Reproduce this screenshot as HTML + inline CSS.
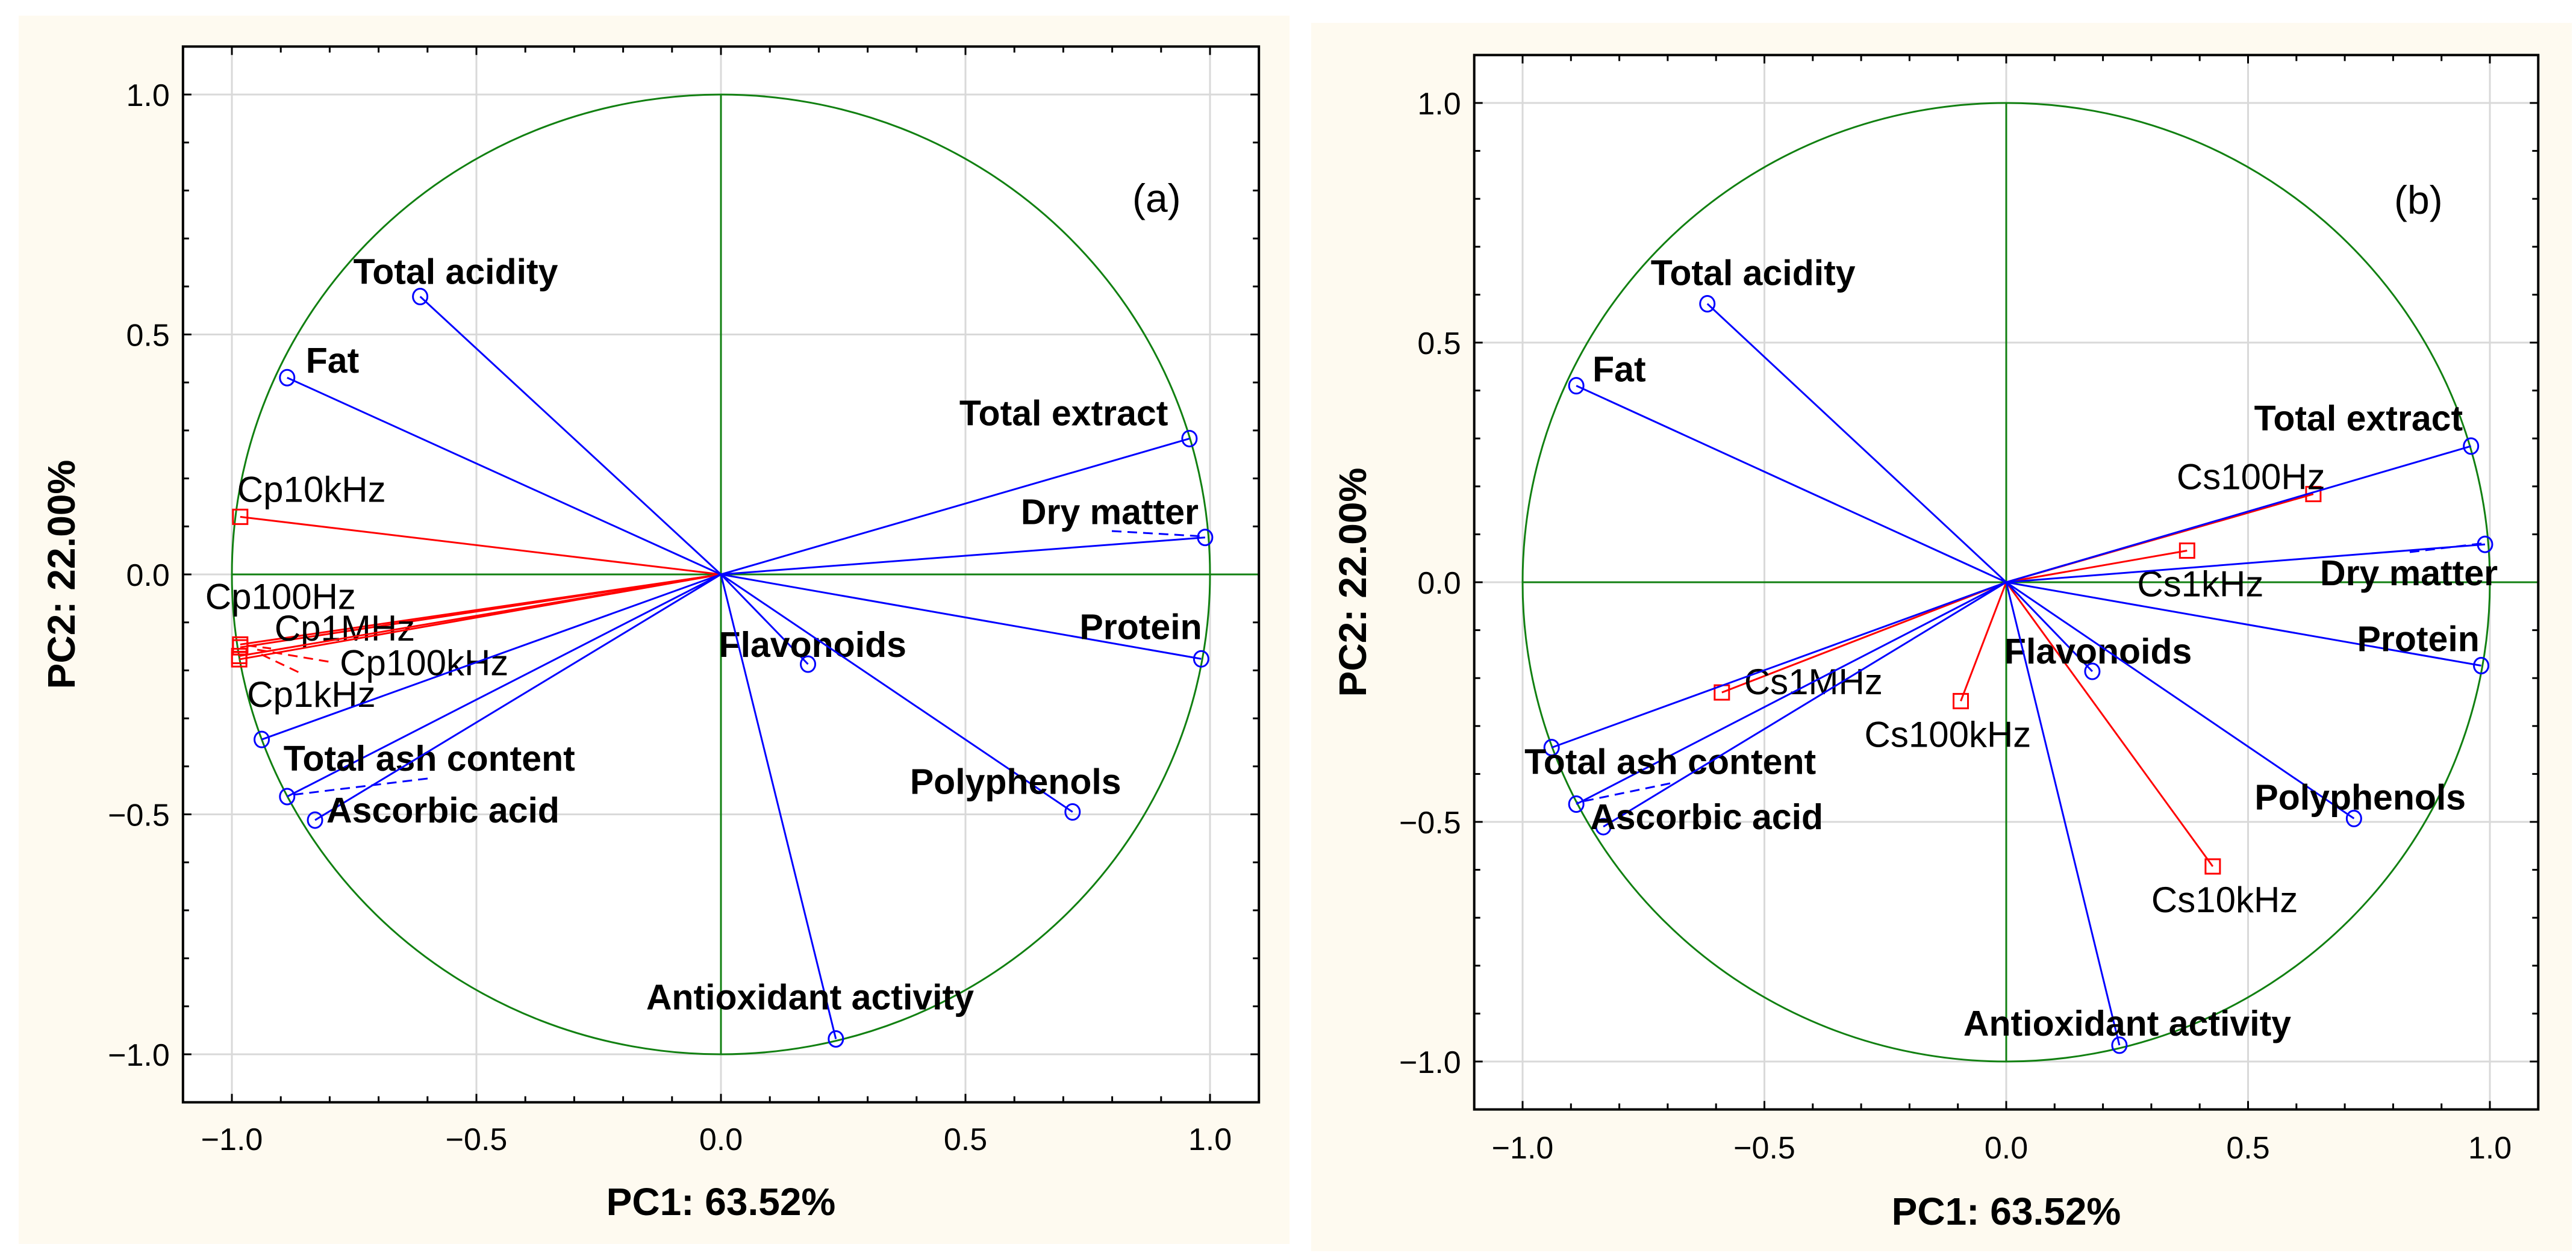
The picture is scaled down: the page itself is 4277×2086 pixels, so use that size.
<!DOCTYPE html>
<html><head><meta charset="utf-8">
<style>
html,body{margin:0;padding:0;background:#fff;}
svg{display:block;}
text{font-family:"Liberation Sans",Arial,sans-serif;}
</style></head>
<body>
<svg id="chart" width="4277" height="2086" viewBox="0 0 4277 2086" xmlns="http://www.w3.org/2000/svg">
<rect x="31" y="26" width="2110" height="2040" fill="#FEFAF0"/>
<rect x="2177" y="38" width="2093" height="2040" fill="#FEFAF0"/>
</svg>
<script>
// ---- data ----
const varNames = ["Total acidity","Fat","Total extract","Dry matter","Protein","Flavonoids","Polyphenols","Antioxidant activity","","Total ash content","Ascorbic acid"];
const varPC1 = [-0.615,-0.887,0.958,0.990,0.982,0.178,0.719,0.235,-0.939,-0.887,-0.830];
const varPC2 = [0.579,0.410,0.283,0.077,-0.176,-0.187,-0.495,-0.968,-0.344,-0.463,-0.512];
const varPC1b = [-0.618,-0.889,0.961,0.990,0.982,0.178,0.719,0.234,-0.940,-0.889,-0.833];
const varPC2b = [0.581,0.410,0.284,0.079,-0.174,-0.186,-0.493,-0.966,-0.345,-0.463,-0.510];
const cpNames = ["Cp10kHz","Cp100Hz","Cp1MHz","Cp100kHz","Cp1kHz"];
const cpPC1 = [-0.983,-0.983,-0.983,-0.985,-0.985];
const cpPC2 = [0.120,-0.146,-0.152,-0.170,-0.177];
const csNames = ["Cs100Hz","Cs1kHz","Cs1MHz","Cs100kHz","Cs10kHz"];
const csPC1 = [0.635,0.374,-0.588,-0.094,0.427];
const csPC2 = [0.184,0.066,-0.230,-0.248,-0.593];
const tickVals = [-1.0,-0.5,0.0,0.5,1.0];
const tickLabels = ["\u22121.0","\u22120.5","0.0","0.5","1.0"];

const NS="http://www.w3.org/2000/svg";
const svg=document.getElementById('chart');
function el(tag,attrs,parent,txt){const e=document.createElementNS(NS,tag);for(const k in attrs)e.setAttribute(k,attrs[k]);if(txt!==undefined)e.textContent=txt;(parent||svg).appendChild(e);return e;}

// label offsets (px from point): [dx, dy(baseline)]
const varOffA=[[-111,-21],[31,-8],[-382,-22],[-306,-22],[-202,-33],[-148,-12],[-270,-30],[-315,-49],[0,0],[-6,-43],[19,4]];
const varOffB=[[-94,-31],[27,-7],[-360,-26],[-274,68],[-206,-24],[-146,-13],[-165,-15],[-259,-16],[0,0],[-86,-50],[-22,4]];
const cpOffA=[[-5,-25],[-58,-59],[57,-11],[167,32],[13,79]];
const csOffB=[[-227,-8],[-83,76],[37,3],[-160,76],[-102,76]];

function panel(o){
  const g=el('g',{});  
  const X=v=>o.cx+v*o.sx, Y=v=>o.cy-v*o.sy;
  const L=X(-1.1),R=X(1.1),T=Y(1.1),B=Y(-1.1);
  el('rect',{x:L,y:T,width:R-L,height:B-T,fill:'#fff'},g);
  tickVals.forEach((v,i)=>{
    const gx=el('line',{x1:X(v),x2:X(v),y1:T,y2:B,stroke:'#d9d9d9','stroke-width':3},g);
     
    const gy=el('line',{x1:L,x2:R,y1:Y(v),y2:Y(v),stroke:'#d9d9d9','stroke-width':3},g);
     
  });
  for(let k=-11;k<=11;k++){const v=k/10, len=(k%5===0)?14:10;
    el('line',{x1:X(v),x2:X(v),y1:B,y2:B-len,stroke:'#000','stroke-width':3},g);
    el('line',{x1:X(v),x2:X(v),y1:T,y2:T+len,stroke:'#000','stroke-width':3},g);
    el('line',{x1:L,x2:L+len,y1:Y(v),y2:Y(v),stroke:'#000','stroke-width':3},g);
    el('line',{x1:R,x2:R-len,y1:Y(v),y2:Y(v),stroke:'#000','stroke-width':3},g);
  }
  const c=el('ellipse',{cx:X(0),cy:Y(0),rx:o.sx,ry:o.sy,fill:'none',stroke:'#118011','stroke-width':3},g);
   
  el('line',{x1:X(0),x2:X(0),y1:Y(1),y2:Y(-1),stroke:'#118011','stroke-width':3},g);
  el('line',{x1:X(-1),x2:R,y1:Y(0),y2:Y(0),stroke:'#118011','stroke-width':3},g);
  o.rN.forEach((n,i)=>{
    const x=X(o.r1[i]),y=Y(o.r2[i]);
    const ln=el('line',{x1:X(0),y1:Y(0),x2:x,y2:y,stroke:'#f00','stroke-width':3},g);
     
    const m=el('rect',{x:x-12,y:y-12,width:24,height:24,fill:'none',stroke:'#f00','stroke-width':3},g);
     
    const off=o.rOff[i];
    const t=el('text',{x:x+off[0],y:y+off[1],'font-size':60,fill:'#000'},g,n);
     
  });
  varNames.forEach((n,i)=>{
    const x=X(o.v1[i]),y=Y(o.v2[i]);
    const ln=el('line',{x1:X(0),y1:Y(0),x2:x,y2:y,stroke:'#0000ff','stroke-width':3},g);
     
    const m=el('ellipse',{cx:x,cy:y,rx:12,ry:13,fill:'none',stroke:'#0000ff','stroke-width':3},g);
     
    if(n){const off=o.vOff[i];
      const t=el('text',{x:x+off[0],y:y+off[1],'font-size':59,'font-weight':'bold',fill:'#000'},g,n);
       }
  });
  o.dash.forEach(d=>{el('line',{x1:d[0],y1:d[1],x2:d[2],y2:d[3],stroke:d[4],'stroke-width':3,'stroke-dasharray':'16 10'},g);});
  const fr=el('rect',{x:L,y:T,width:R-L,height:B-T,fill:'none',stroke:'#000','stroke-width':4},g);
   
  tickVals.forEach((v,i)=>{
    const tx=el('text',{x:X(v),y:o.xLabY,'font-size':52,'text-anchor':'middle',fill:'#000'},g,tickLabels[i]);
     
    const ty=el('text',{x:L-22,y:Y(v)+19,'font-size':52,'text-anchor':'end',fill:'#000'},g,tickLabels[i]);
     
  });
  const xt=el('text',{x:X(0),y:o.xTitY,'font-size':64,'font-weight':'bold','text-anchor':'middle',fill:'#000'},g,'PC1: 63.52%');
   
  const yt=el('text',{x:0,y:0,'font-size':64,'font-weight':'bold','text-anchor':'middle',fill:'#000',transform:`translate(${o.yTitX},${Y(0)}) rotate(-90)`},g,'PC2: 22.00%');
   
  const pl=el('text',{x:o.tagX,y:o.tagY,'font-size':66,'font-family':'"Liberation Serif",serif',fill:'#000'},g,o.tag);
   
}

panel({id:'panel-a',cx:1197,cy:954,sx:812,sy:797,v1:varPC1,v2:varPC2,vOff:varOffA,rN:cpNames,r1:cpPC1,r2:cpPC2,rOff:cpOffA,
  dash:[[1846,882,2001,891,'#0000ff'],[710,1293,478,1321,'#0000ff'],[427,1079,552,1100,'#f00'],[434,1087,501,1119,'#f00'],[410,1072,450,1077,'#f00']],
  xLabY:1910,xTitY:2018,yTitX:124,tag:'(a)',tagX:1880,tagY:352});
panel({id:'panel-b',cx:3331,cy:967,sx:803,sy:796,v1:varPC1b,v2:varPC2b,vOff:varOffB,rN:csNames,r1:csPC1,r2:csPC2,rOff:csOffB,
  dash:[[4001,917,4125,902,'#0000ff'],[2773,1301,2618,1333,'#0000ff']],
  xLabY:1924,xTitY:2034,yTitX:2268,tag:'(b)',tagX:3975,tagY:355});
</script>
</body></html>
